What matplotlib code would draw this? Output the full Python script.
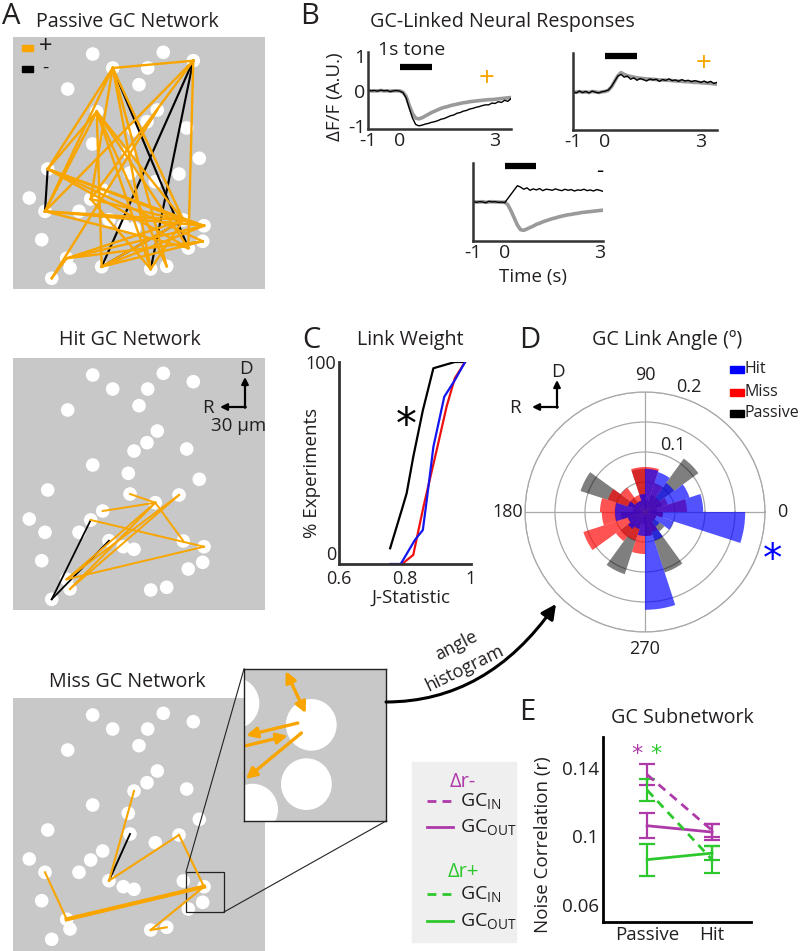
import numpy as np
import matplotlib.pyplot as plt
from matplotlib.patches import Circle, Rectangle, FancyArrowPatch

plt.rcParams['font.family'] = ['Open Sans', 'DejaVu Sans']

# ---------------------------- data ---------------------------- #

# cell centroids in the imaged field (pixels, y pointing down)
cell_x = [79.7, 150.3, 180.3, 99.7, 134.7, 54.7, 126, 144.3, 134, 121, 173.7, 79.7,
          115.3, 186.3, 34.7, 117, 166, 142.3, 89.7, 16.3, 77.7, 32, 66, 96, 110.3,
          121, 170.3, 191, 28.7, 189.7, 175.3, 53.7, 57, 137.7, 153.7, 38.7]
cell_y = [17, 15.3, 23.7, 31, 31, 52, 47.7, 73, 84.7, 93, 91, 107, 115.3, 121.3,
          132, 136, 137, 144.7, 153, 161, 162, 174.3, 174.3, 182.7, 188.7, 191.3,
          183, 188.7, 202.7, 204.3, 211, 221.3, 231, 232, 229.3, 241.3]
# two extra cells seen under the passive network
passive_cell_x = cell_x + [83.7, 88.7]
passive_cell_y = cell_y + [74.7, 229.7]

passive_pos = [(3, 2), (2, 30), (3, 14), (3, 21), (3, 20), (3, 33), (3, 26), (36, 14),
               (36, 21), (36, 37), (36, 33), (36, 26), (36, 30), (2, 21), (2, 20),
               (14, 27), (14, 26), (14, 29), (21, 27), (21, 26), (21, 30), (31, 27),
               (31, 29), (37, 27), (37, 26), (37, 29), (33, 26), (34, 36), (20, 27),
               (31, 26), (35, 31), (35, 7), (20, 33), (14, 30), (3, 34)]
passive_neg = [(14, 21), (3, 30), (2, 37), (2, 33), (37, 26)]
hit_pos = [(15, 17), (17, 26), (18, 17), (20, 27), (16, 31), (16, 32), (17, 32),
           (17, 31), (27, 31)]
hit_neg = [(20, 35), (23, 35)]
miss_pos = [(9, 23), (23, 16), (16, 27), (27, 31), (21, 31), (27, 33), (33, 34)]
miss_neg = [(15, 23)]
miss_weight = [1, 1, 1, 2, 1, 1, 1]

# B: example traces (dF/F, A.U.)
t = [-1.0, -0.9, -0.8, -0.7, -0.6, -0.5, -0.4, -0.3, -0.2, -0.1, 0.0, 0.1, 0.2,
     0.3, 0.4, 0.5, 0.6, 0.7, 0.8, 0.9, 1.0, 1.1, 1.2, 1.3, 1.4, 1.5, 1.6, 1.7,
     1.8, 1.9, 2.0, 2.1, 2.2, 2.3, 2.4, 2.5, 2.6, 2.7, 2.8, 2.9, 3.0, 3.1, 3.2,
     3.3, 3.4, 3.5]
tr1_black = [0.02, 0.0, 0.01, -0.01, 0.02, 0.0, 0.01, -0.02, 0.0, 0.01, -0.01, -0.05, -0.2,
             -0.5, -0.78, -0.96, -1.0, -0.98, -0.95, -0.93, -0.9, -0.88, -0.85, -0.81,
             -0.79, -0.75, -0.71, -0.69, -0.64, -0.62, -0.58, -0.56, -0.52, -0.5, -0.47,
             -0.45, -0.42, -0.4, -0.4, -0.35, -0.36, -0.31, -0.33, -0.27, -0.3, -0.22]
tr1_gray = [0.01, 0.0, 0.0, 0.0, 0.01, 0.0, 0.0, -0.01, 0.0, 0.0, 0.0, -0.04, -0.16,
            -0.42, -0.65, -0.78, -0.8, -0.77, -0.72, -0.67, -0.62, -0.58, -0.54, -0.5,
            -0.47, -0.45, -0.42, -0.4, -0.38, -0.36, -0.34, -0.33, -0.31, -0.3, -0.29,
            -0.28, -0.27, -0.26, -0.25, -0.25, -0.24, -0.23, -0.22, -0.21, -0.2, -0.19]
tr2_black = [0.0, -0.03, 0.02, -0.02, 0.01, -0.03, 0.02, -0.01, -0.03, 0.0, 0.02, 0.05, 0.15,
             0.3, 0.45, 0.5, 0.42, 0.45, 0.36, 0.4, 0.33, 0.38, 0.35, 0.31, 0.37, 0.34,
             0.36, 0.3, 0.35, 0.33, 0.37, 0.32, 0.34, 0.3, 0.35, 0.31, 0.33, 0.29, 0.32,
             0.3, 0.27, 0.31, 0.26, 0.3, 0.24, 0.27]
tr2_gray = [0.0, -0.01, 0.01, -0.01, 0.0, -0.02, 0.01, 0.0, -0.02, 0.0, 0.01, 0.04, 0.14,
            0.3, 0.46, 0.55, 0.5, 0.46, 0.44, 0.42, 0.4, 0.39, 0.38, 0.37, 0.36, 0.36,
            0.35, 0.34, 0.34, 0.33, 0.33, 0.32, 0.31, 0.31, 0.3, 0.29, 0.29, 0.28, 0.27,
            0.27, 0.26, 0.25, 0.25, 0.24, 0.23, 0.22]
tr3_black = [0.02, -0.01, 0.01, 0.0, -0.02, 0.02, 0.0, 0.01, -0.01, 0.0, -0.02, 0.1, 0.22,
             0.34, 0.46, 0.42, 0.36, 0.4, 0.33, 0.37, 0.34, 0.38, 0.32, 0.36, 0.35, 0.33,
             0.37, 0.34, 0.32, 0.36, 0.33, 0.35, 0.31, 0.34, 0.33, 0.36, 0.32, 0.34, 0.31,
             0.35, 0.33, 0.3, 0.34, 0.32, 0.31, 0.33]
tr3_gray = [0.01, 0.0, 0.0, 0.01, -0.01, 0.0, 0.01, 0.0, 0.0, -0.01, 0.0, -0.08, -0.25,
            -0.45, -0.65, -0.78, -0.8, -0.76, -0.72, -0.68, -0.63, -0.6, -0.56, -0.53,
            -0.5, -0.47, -0.45, -0.42, -0.4, -0.38, -0.36, -0.35, -0.33, -0.32, -0.3,
            -0.29, -0.28, -0.27, -0.26, -0.25, -0.24, -0.23, -0.23, -0.22, -0.22, -0.21]

# C: cumulative link weight (J-statistic vs % experiments)
jw_passive_x = [0.755, 0.79, 0.805, 0.825, 0.854, 0.886, 0.951, 0.982]
jw_passive_y = [7.8, 26.7, 35, 53, 76, 96.9, 100, 100]
jw_hit_x = [0.755, 0.787, 0.83, 0.854, 0.866, 0.886, 0.919, 0.951, 0.982]
jw_hit_y = [0, 0, 11.9, 16.8, 31.7, 58, 82.8, 91, 100]
jw_miss_x = [0.791, 0.825, 0.856, 0.896, 0.926, 0.951, 0.982]
jw_miss_y = [0, 4.5, 28.4, 56.4, 77.9, 92, 100]

# D: link angle histogram (18 deg bins)
bin_centers = [9, 27, 45, 63, 81, 99, 117, 135, 153, 171, 189, 207, 225, 243, 261,
               279, 297, 315, 333, 351]
hit_frac = [0.097, 0.078, 0.06, 0.07, 0.072, 0.03, 0.02, 0.02, 0.03, 0.05, 0.05, 0.03,
            0.035, 0.03, 0.04, 0.163, 0.05, 0.03, 0.05, 0.167]
miss_frac = [0.07, 0.04, 0.03, 0.05, 0.075, 0.075, 0.03, 0.05, 0.065, 0.075, 0.072, 0.108,
             0.06, 0.05, 0.07, 0.04, 0.035, 0.02, 0.02, 0.03]
passive_frac = [0.02, 0.03, 0.11, 0.03, 0.02, 0.072, 0.02, 0.03, 0.113, 0.02, 0.04, 0.03,
                0.05, 0.109, 0.02, 0.04, 0.106, 0.04, 0.02, 0.03]

# E: noise correlation of GC subnetworks
conds = ['Passive', 'Hit']
in_minus = [0.136, 0.1035]
in_minus_err = [0.006, 0.004]
out_minus = [0.1062, 0.1025]
out_minus_err = [0.0072, 0.0045]
in_plus = [0.127, 0.0864]
in_plus_err = [0.0063, 0.0079]
out_plus = [0.0864, 0.0902]
out_plus_err = [0.0093, 0.004]

# ---------------------------- drawing ---------------------------- #

ORANGE = '#F8A500'
BG = '#C8C8C8'
TXT = '#231F20'
PURPLE = '#AE3AA9'
GREEN = '#2EC82E'
R_CELL = 6.8

fig = plt.figure(figsize=(8, 9.51), dpi=100)


def px_axes(x0, y0, x1, y1, **kw):
    return fig.add_axes([x0 / 800, 1 - y1 / 951, (x1 - x0) / 800, (y1 - y0) / 951], **kw)


def draw_network(ax, xs, ys, pos, neg, lw, weights=None, h=252):
    ax.set_facecolor(BG)
    ax.set_xlim(0, 252)
    ax.set_ylim(h, 0)
    ax.set_xticks([])
    ax.set_yticks([])
    for sp in ax.spines.values():
        sp.set_visible(False)
    for x, y in zip(xs, ys):
        ax.add_patch(Circle((x, y), R_CELL, facecolor='white', edgecolor='none'))
    for i, j in neg:
        ax.plot([xs[i], xs[j]], [ys[i], ys[j]], color='black', lw=lw * 0.9)
    if weights is None:
        weights = [1] * len(pos)
    for (i, j), w in zip(pos, weights):
        ax.plot([xs[i], xs[j]], [ys[i], ys[j]], color=ORANGE, lw=lw * w)


# A: networks
axA1 = px_axes(13, 37, 265, 289)
draw_network(axA1, passive_cell_x, passive_cell_y, passive_pos, passive_neg, 1.7)
axA2 = px_axes(13, 358, 265, 610)
draw_network(axA2, cell_x, cell_y, hit_pos, hit_neg, 1.4)
axA3 = px_axes(13, 698, 265, 951)
draw_network(axA3, cell_x, cell_y, miss_pos, miss_neg, 1.5, miss_weight, h=253)
axA3.add_patch(Rectangle((173, 174), 38, 40, fill=False, edgecolor='#222222', lw=0.9))

# zoomed inset of the miss network
axI = px_axes(244, 669, 386, 821, zorder=3)
axI.set_facecolor(BG)
axI.set_xlim(173, 211)
axI.set_ylim(214, 174)
axI.set_xticks([])
axI.set_yticks([])
for sp in axI.spines.values():
    sp.set_color('#222222')
    sp.set_linewidth(1.0)
for x, y in zip(cell_x, cell_y):
    axI.add_patch(Circle((x, y), R_CELL, facecolor='white', edgecolor='none'))


def to_border(p, d):
    ts = []
    for k, (lo, hi) in enumerate([(173, 211), (174, 214)]):
        if d[k] > 0:
            ts.append((hi - p[k]) / d[k])
        elif d[k] < 0:
            ts.append((lo - p[k]) / d[k])
    return min(ts)


hub = np.array([cell_x[27], cell_y[27]])
for other, style, out, shift in [(16, '<|-|>', True, 0.0), (31, '-|>', False, -1.3),
                                  (31, '-|>', True, 1.3), (33, '-|>', True, 0.0)]:
    d = np.array([cell_x[other], cell_y[other]]) - hub
    d = d / np.hypot(*d)
    nrm = np.array([-d[1], d[0]])
    base = hub + nrm * shift
    near = base + d * R_CELL * (0.5 if out else 1.0)
    far = base + d * (to_border(base, d) - 0.6)
    a, b = (near, far) if out else (far, near)
    axI.add_patch(FancyArrowPatch(tuple(a), tuple(b), arrowstyle=style, mutation_scale=16,
                                  color=ORANGE, lw=2.4, shrinkA=0, shrinkB=0))

# B: traces
def trace_axes(ax, xmax, ylim):
    ax.set_xlim(-1, xmax)
    ax.set_ylim(*ylim)
    ax.set_facecolor('none')
    for s in ['top', 'right']:
        ax.spines[s].set_visible(False)
    for s in ['left', 'bottom']:
        ax.spines[s].set_linewidth(1.8)
        ax.spines[s].set_color('#333333')
    ax.tick_params(length=0, labelsize=14, colors=TXT, pad=2)
    ax.set_xticks([-1, 0, 3])
    ax.set_xticklabels(['-1', '0', '3'])
    ax.set_yticks([])


axB1 = px_axes(368, 52, 511, 129)
trace_axes(axB1, 3.5, (-1.09, 1.11))
axB1.set_yticks([-1, 0, 1])
axB1.set_yticklabels(['-1', '0', '1'])
axB1.plot(t, tr1_gray, color='#9a9a9a', lw=2.6)
axB1.plot(t, tr1_black, color='black', lw=1.0)
axB1.plot([0, 1], [0.68, 0.68], color='black', lw=4.5, solid_capstyle='butt')
axB1.text(0.36, 1.17, '1s tone', ha='center', va='center', fontsize=14, color=TXT)
axB1.text(2.74, 0.34, '+', ha='center', va='center', fontsize=20, color=ORANGE)

axB2 = px_axes(573, 53, 717, 130)
trace_axes(axB2, 3.5, (-1.09, 1.11))
axB2.plot(t, tr2_gray, color='#9a9a9a', lw=2.6)
axB2.plot(t, tr2_black, color='black', lw=1.0)
axB2.plot([0, 1], [1.02, 1.02], color='black', lw=4.5, solid_capstyle='butt', clip_on=False)
axB2.text(3.09, 0.8, '+', ha='center', va='center', fontsize=20, color=ORANGE)

axB3 = px_axes(473, 163, 603, 241)
trace_axes(axB3, 3.1, (-1.1, 1.1))
axB3.plot(t, tr3_gray, color='#9a9a9a', lw=2.6)
axB3.plot(t, tr3_black, color='black', lw=1.0)
axB3.plot([0, 1], [1.02, 1.02], color='black', lw=4.5, solid_capstyle='butt', clip_on=False)
axB3.text(3.0, 0.85, '-', ha='center', va='center', fontsize=16, color='black')

# C: link weight
axC = px_axes(339, 362, 471, 564)
axC.plot(jw_passive_x, jw_passive_y, color='black', lw=1.6)
axC.plot(jw_miss_x, jw_miss_y, color='#EE1010', lw=1.6)
axC.plot(jw_hit_x, jw_hit_y, color='#1515F0', lw=1.6)
axC.set_xlim(0.6, 1.0)
axC.set_ylim(0, 100)
for s in ['top', 'right']:
    axC.spines[s].set_visible(False)
for s in ['left', 'bottom']:
    axC.spines[s].set_linewidth(2)
    axC.spines[s].set_color('#333333')
axC.set_xticks([0.6, 0.8, 1.0])
axC.set_xticklabels(['0.6', '0.8', '1'])
axC.set_yticks([0, 100])
axC.tick_params(length=0, labelsize=13, colors=TXT, pad=2)
axC.tick_params(axis='x', pad=4)
axC.get_yticklabels()[0].set_va('bottom')

# D: polar histogram
axD = px_axes(525, 392, 765, 632, projection='polar')
theta = np.deg2rad(bin_centers)
width = np.deg2rad(18)
axD.set_axisbelow(True)
axD.bar(theta, passive_frac, width=width, color='black', alpha=0.5, edgecolor='none')
axD.bar(theta, miss_frac, width=width, color='red', alpha=0.68, edgecolor='none')
axD.bar(theta, hit_frac, width=width, color='blue', alpha=0.68, edgecolor='none')
axD.set_ylim(0, 0.2)
axD.set_rgrids([0.05, 0.1, 0.15, 0.2], labels=['', '0.1', '', '0.2'], angle=75,
               fontsize=13, color=TXT)
axD.set_thetagrids([0, 90, 180, 270], labels=['0', '90', '180', '270'], fontsize=13,
                   color=TXT)
axD.grid(color='#a8a8a8', lw=0.9)
axD.spines['polar'].set_color('#a8a8a8')
axD.spines['polar'].set_linewidth(0.9)
axD.tick_params(pad=2)

# E: noise correlation
axE = px_axes(603, 737, 751, 922)
ex = [1, 2]
dash = (0, (3.2, 2.2))
for vals, errs, col, ls in [(out_minus, out_minus_err, PURPLE, '-'),
                            (in_minus, in_minus_err, PURPLE, dash),
                            (out_plus, out_plus_err, GREEN, '-'),
                            (in_plus, in_plus_err, GREEN, dash)]:
    axE.errorbar(ex, vals, yerr=errs, color=col, lw=2, ls=ls, capsize=5.5,
                 capthick=1.6, elinewidth=1.6)
axE.set_xlim(0.32, 2.6)
axE.set_ylim(0.05, 0.158)
for s in ['top', 'right']:
    axE.spines[s].set_visible(False)
for s in ['left', 'bottom']:
    axE.spines[s].set_linewidth(2)
    axE.spines[s].set_color('black')
axE.set_yticks([0.06, 0.1, 0.14])
axE.set_yticklabels(['0.06', '0.1', '0.14'])
axE.set_xticks(ex)
axE.set_xticklabels(conds)
axE.tick_params(length=0, labelsize=13.5, colors=TXT, pad=3)

# ---------------------------- overlay text ---------------------------- #

ov = fig.add_axes([0, 0, 1, 1], zorder=10)
ov.set_xlim(0, 800)
ov.set_ylim(951, 0)
ov.axis('off')


def txt(x, y, s, size=14.2, **kw):
    kw.setdefault('ha', 'center')
    kw.setdefault('va', 'center')
    kw.setdefault('color', TXT)
    ov.text(x, y, s, fontsize=size, **kw)


for x, y, s in [(11, 17, 'A'), (310, 17, 'B'), (311, 340, 'C'), (530, 340, 'D'),
                (527, 712, 'E')]:
    txt(x, y, s, size=21)

txt(127, 22, 'Passive GC Network')
txt(130, 340, 'Hit GC Network')
txt(127, 682, 'Miss GC Network')
txt(502, 22, 'GC-Linked Neural Responses')
txt(410, 340, 'Link Weight')
txt(667, 340, 'GC Link Angle (º)')
txt(682, 718, 'GC Subnetwork')

txt(335, 97, 'ΔF/F (A.U.)', size=13.5, rotation=90)
txt(533, 277, 'Time (s)', size=13.5)
txt(312, 473, '% Experiments', size=13.5, rotation=90)
txt(411, 598, 'J-Statistic', size=13.5)
txt(543, 845, 'Noise Correlation (r)', size=13.5, rotation=90)

# passive legend
ov.add_patch(Rectangle((22, 44.5), 11, 6, color=ORANGE))
ov.add_patch(Rectangle((22, 66), 11, 6, color='black'))
txt(45.5, 47, '+', size=17)
txt(45, 68, '-', size=14)

# orientation arrows
for cx, cy, dx, lx, dy in [(245, 407, 220, 208, 377), (557, 407, 532, 515, 380)]:
    ov.annotate('', xy=(cx, dy), xytext=(cx, cy + 0.8),
                arrowprops=dict(arrowstyle='-|>', color='black', lw=1.6, mutation_scale=10,
                                shrinkA=0, shrinkB=0))
    ov.annotate('', xy=(dx, cy), xytext=(cx + 0.8, cy),
                arrowprops=dict(arrowstyle='-|>', color='black', lw=1.6, mutation_scale=10,
                                shrinkA=0, shrinkB=0))
    txt(lx, cy + 1, 'R', size=13.5)
    txt(cx + 1, dy - 8, 'D', size=13.5)
txt(239, 426, '30 µm', size=13.5)

# inset connectors and curved arrow
ov.plot([186, 244], [872, 669], color='#222222', lw=0.8)
ov.plot([224, 386], [912, 821], color='#222222', lw=0.8)
ov.add_patch(FancyArrowPatch((386, 702), (556, 604),
                             connectionstyle='angle3,angleA=0,angleB=55',
                             arrowstyle='-|>', mutation_scale=22, lw=2.2, color='black',
                             shrinkA=0, shrinkB=0))
txt(456, 646, 'angle', size=13, rotation=27)
txt(465, 668, 'histogram', size=13, rotation=26)

# C / D / E asterisks
txt(406, 426, '*', size=30, color='black', family='DejaVu Sans')
txt(773, 560, '*', size=28, color='blue', family='DejaVu Sans')
txt(637, 754, '*', size=16, color=PURPLE, family='DejaVu Sans')
txt(656, 754, '*', size=16, color=GREEN, family='DejaVu Sans')

# polar legend
for y, col, name in [(369, 'blue', 'Hit'), (392, 'red', 'Miss'), (413, 'black', 'Passive')]:
    ov.add_patch(Rectangle((730, y - 3.5), 14, 7, color=col))
    txt(745, y, name, size=11.5, ha='left')

# E legend
ov.add_patch(Rectangle((412, 762), 104, 180, color='#EFEFEF', zorder=0))
txt(463, 782, 'Δr-', size=14.5, color=PURPLE)
txt(463, 872, 'Δr+', size=14.5, color=GREEN)
for y, col, ls, name in [(801, PURPLE, dash, 'IN'), (827, PURPLE, '-', 'OUT'),
                         (894, GREEN, dash, 'IN'), (921, GREEN, '-', 'OUT')]:
    ov.plot([427, 453], [y, y], color=col, lw=2, ls=ls)
    txt(460, y + 1, 'GC$_{\\mathregular{' + name + '}}$', size=14, ha='left')

fig.savefig('out.png', dpi=100)
